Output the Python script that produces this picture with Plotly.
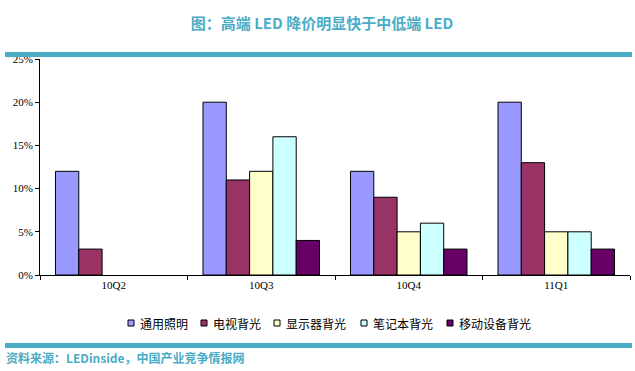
import plotly.graph_objects as go

categories = ["10Q2", "10Q3", "10Q4", "11Q1"]
series_names = ["通用照明", "电视背光", "显示器背光", "笔记本背光", "移动设备背光"]
general_lighting = [12, 20, 12, 20]
tv_backlight = [3, 11, 9, 13]
monitor_backlight = [None, 12, 5, 5]
notebook_backlight = [None, 16, 6, 5]
mobile_backlight = [None, 4, 3, 3]
y_ticks = [0, 5, 10, 15, 20, 25]
y_tick_labels = ["0%", "5%", "10%", "15%", "20%", "25%"]

colors = ["#9999FF", "#993366", "#FFFFCC", "#CCFFFF", "#660066"]
values = [general_lighting, tv_backlight, monitor_backlight, notebook_backlight, mobile_backlight]

fig = go.Figure()
for name, vals, c in zip(series_names, values, colors):
    fig.add_trace(go.Bar(
        x=categories, y=vals, name=name, showlegend=False,
        marker=dict(color=c, line=dict(color="#000000", width=1)),
    ))

teal = "#4BACC6"
H = 216.0
W = 590.0
L, T = 40, 59


def px(x):
    return (x - L) / W


def py(y):
    return (275 - y) / H


shapes = [
    dict(type="rect", xref="paper", yref="paper", x0=px(5), x1=px(632),
         y0=py(52), y1=py(57), line=dict(width=0), fillcolor=teal),
    dict(type="rect", xref="paper", yref="paper", x0=px(5), x1=px(632),
         y0=py(343), y1=py(348), line=dict(width=0), fillcolor=teal),
]
annotations = [
    dict(text="<b>资料来源：LEDinside，中国产业竞争情报网</b>", xref="paper", yref="paper",
         x=px(4), y=py(357), xanchor="left", yanchor="middle", showarrow=False,
         font=dict(family="Noto Sans CJK SC", size=12, color=teal)),
]

# manual legend
legend_x = [128, 201, 274, 361, 447]
for name, c, lx in zip(series_names, colors, legend_x):
    shapes.append(dict(type="rect", xref="paper", yref="paper", x0=px(lx), x1=px(lx + 6),
                       y0=py(320), y1=py(326), fillcolor=c,
                       line=dict(color="#000", width=1)))
    annotations.append(dict(text=name, xref="paper", yref="paper", x=px(lx + 10), y=py(323),
                            xanchor="left", yanchor="middle", showarrow=False,
                            font=dict(family="Noto Sans CJK SC", size=12, color="#000")))

fig.update_layout(
    width=635, height=371,
    margin=dict(l=L, r=5, t=T, b=96, autoexpand=False),
    paper_bgcolor="white", plot_bgcolor="white",
    barmode="group", bargap=0.21, bargroupgap=0,
    showlegend=False,
    title=dict(text="<b>图：高端 LED 降价明显快于中低端 LED</b>", x=322/635, xanchor="center",
               y=1-24/371, yanchor="middle",
               font=dict(family="Noto Sans CJK SC", size=15, color=teal)),
    xaxis=dict(showline=True, linecolor="#000", linewidth=1, ticks="outside",
               tickson="boundaries", ticklen=4, tickcolor="#000", automargin=False,
               tickfont=dict(family="Liberation Serif", size=11, color="#000"),
               showgrid=False),
    yaxis=dict(range=[0, 25], tickvals=y_ticks, ticktext=y_tick_labels, automargin=False,
               showline=True, linecolor="#000", linewidth=1, ticks="outside",
               ticklen=4, tickcolor="#000", showgrid=False, zeroline=False,
               tickfont=dict(family="Liberation Serif", size=11, color="#000")),
    shapes=shapes,
    annotations=annotations,
)

fig.write_html("out.html", config={"displayModeBar": False},
               post_script="document.body.style.margin='0';document.body.style.overflow='hidden';")
